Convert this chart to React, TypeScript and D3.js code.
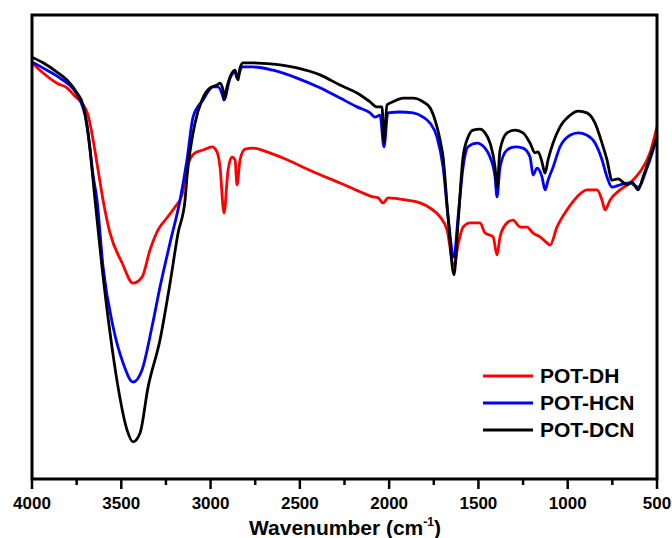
import React from "react";
import * as d3 from "d3";

// Wavenumber (cm-1) and relative transmittance (arbitrary units, 0-100)
const dhWave = [4000,3938,3860,3804,3759,3720,3686,3658,3630,3602,3563,3496,3434,3384,3339,3294,3244,3199,3160,3132,3087,3042,2992,2964,2947,2925,2902,2880,2863,2852,2835,2807,2762,2684,2572,2426,2275,2163,2090,2062,2034,2006,1900,1827,1771,1715,1676,1637,1614,1586,1547,1491,1463,1418,1396,1379,1340,1306,1267,1228,1194,1155,1116,1099,1060,1004,948,892,836,808,791,763,707,651,595,539,500];
const dhValue = [89.7,87.5,85.3,84.3,82.5,81.0,78.4,73.1,66.6,60.1,53.0,46.6,42.2,43.5,49.4,53.7,56.3,58.6,61.2,67.2,70.3,70.9,71.6,70.5,67.2,57.3,66.6,69.4,68.8,63.4,68.8,71.1,71.3,70.5,68.8,66.2,63.8,61.9,60.8,60.6,59.5,60.6,60.1,59.5,58.4,56.5,53.7,46.0,50.5,54.3,55.2,55.2,53.0,52.2,48.3,52.2,55.2,55.8,54.3,54.3,53.0,52.2,50.9,50.4,54.3,58.0,60.8,62.3,62.3,60.1,58.0,60.1,62.3,63.8,66.2,70.3,75.9];

const hcnWave = [4000,3916,3843,3770,3731,3703,3681,3658,3636,3602,3546,3490,3434,3384,3328,3283,3227,3171,3132,3098,3042,2986,2958,2930,2925,2891,2863,2852,2824,2762,2650,2516,2387,2275,2180,2107,2079,2051,2029,2007,1939,1866,1810,1771,1732,1698,1670,1637,1614,1586,1558,1508,1463,1435,1407,1396,1379,1340,1295,1250,1211,1194,1172,1144,1127,1110,1082,1043,987,942,892,847,808,780,752,707,651,606,556,500];
const hcnValue = [89.9,88.1,86.4,84.1,81.7,78.4,73.1,65.5,60.1,45.7,32.8,25.0,20.9,23.5,32.8,41.4,50.9,60.1,68.8,78.0,81.7,84.5,84.5,82.3,81.7,86.4,87.7,86.4,88.8,88.8,88.1,86.4,84.3,82.1,80.2,78.9,78.0,78.4,71.6,78.9,79.1,78.9,78.0,76.7,73.7,67.2,56.5,47.8,56.5,67.2,71.6,72.4,71.3,69.4,65.1,60.8,67.2,70.9,71.6,71.3,69.4,65.5,67.0,65.1,62.3,64.4,67.2,71.6,74.1,74.6,74.1,72.4,68.8,65.1,62.9,63.4,63.8,62.9,67.0,73.7];

const dcnWave = [4000,3938,3860,3804,3748,3714,3692,3675,3658,3647,3608,3563,3518,3468,3434,3395,3350,3283,3227,3182,3143,3132,3087,3048,3003,2964,2947,2930,2925,2908,2880,2863,2846,2835,2818,2762,2650,2516,2387,2275,2180,2107,2068,2040,2029,2012,1978,1922,1866,1810,1771,1732,1715,1698,1670,1637,1614,1586,1558,1530,1491,1463,1435,1407,1396,1379,1340,1295,1250,1211,1183,1166,1144,1127,1110,1082,1043,987,942,892,847,808,780,752,718,668,640,606,578,539,500];
const dcnValue = [90.9,89.7,87.7,86.0,83.2,80.6,76.3,70.9,64.4,60.1,45.7,31.5,19.8,10.6,8.0,9.9,19.8,30.0,42.2,53.0,60.1,65.1,76.7,81.7,84.3,84.9,85.3,83.8,81.7,84.5,87.5,88.1,86.0,88.6,89.7,89.7,89.4,88.6,87.1,84.9,83.2,81.3,80.2,80.2,72.5,80.6,81.3,82.1,82.1,81.3,80.0,75.9,73.1,69.4,56.5,44.0,55.2,69.4,73.7,75.2,75.4,74.6,72.4,67.2,62.9,70.9,74.6,75.2,74.6,72.4,70.3,70.5,68.3,65.9,68.8,72.4,75.9,78.4,79.3,78.9,76.7,72.4,68.8,64.4,64.7,63.4,64.0,62.3,65.1,69.4,73.7];

const seriesNames = ["POT-DH", "POT-HCN", "POT-DCN"];
const seriesColors = ["#ff0000", "#0000ff", "#000000"];
const xTicks = [4000, 3500, 3000, 2500, 2000, 1500, 1000, 500];
const xMinorTicks = [3750, 3250, 2750, 2250, 1750, 1250, 750];

const FONT = "'Liberation Sans', Arial, sans-serif";

export default function App() {
  const W = 672, H = 538;
  const left = 32, right = 657, top = 15, bottom = 479;
  const x = d3.scaleLinear().domain([4000, 500]).range([left, right]);
  const y = d3.scaleLinear().domain([0, 100]).range([bottom, top]);
  const line = d3.line<[number, number]>()
    .x(d => x(d[0]))
    .y(d => y(d[1]))
    .curve(d3.curveMonotoneX);

  const series = [
    { w: dhWave, v: dhValue },
    { w: hcnWave, v: hcnValue },
    { w: dcnWave, v: dcnValue },
  ];

  const legendX0 = 483, legendX1 = 533, legendY0 = 376, legendDy = 27;

  return (
    <svg width={W} height={H} style={{ position: "absolute", left: 0, top: 0, background: "#fff" }}>
      <rect x={0} y={0} width={W} height={H} fill="#fff" />
      {series.map((s, i) => (
        <path
          key={i}
          d={line(s.w.map((w, j) => [w, s.v[j]] as [number, number])) || ""}
          fill="none"
          stroke={seriesColors[i]}
          strokeWidth={2.8}
          strokeLinejoin="round"
        />
      ))}
      <rect x={left} y={top} width={right - left} height={bottom - top} fill="none" stroke="#000" strokeWidth={3} />
      {xTicks.map(t => (
        <g key={t}>
          <line x1={x(t)} x2={x(t)} y1={bottom} y2={bottom + 10} stroke="#000" strokeWidth={2.5} />
          <text x={x(t)} y={509} textAnchor="middle" fontFamily={FONT} fontWeight="bold" fontSize={17}>{t}</text>
        </g>
      ))}
      {xMinorTicks.map(t => (
        <line key={t} x1={x(t)} x2={x(t)} y1={bottom} y2={bottom + 6} stroke="#000" strokeWidth={2.5} />
      ))}
      <text x={345} y={535} textAnchor="middle" fontFamily={FONT} fontWeight="bold" fontSize={21}>
        Wavenumber (cm<tspan fontSize={12} dy={-9}>-1</tspan><tspan dy={9}>)</tspan>
      </text>
      {seriesNames.map((n, i) => (
        <g key={n}>
          <line x1={legendX0} x2={legendX1} y1={legendY0 + i * legendDy} y2={legendY0 + i * legendDy} stroke={seriesColors[i]} strokeWidth={3} />
          <text x={540} y={legendY0 + i * legendDy + 7} fontFamily={FONT} fontWeight="bold" fontSize={21}>{n}</text>
        </g>
      ))}
    </svg>
  );
}
